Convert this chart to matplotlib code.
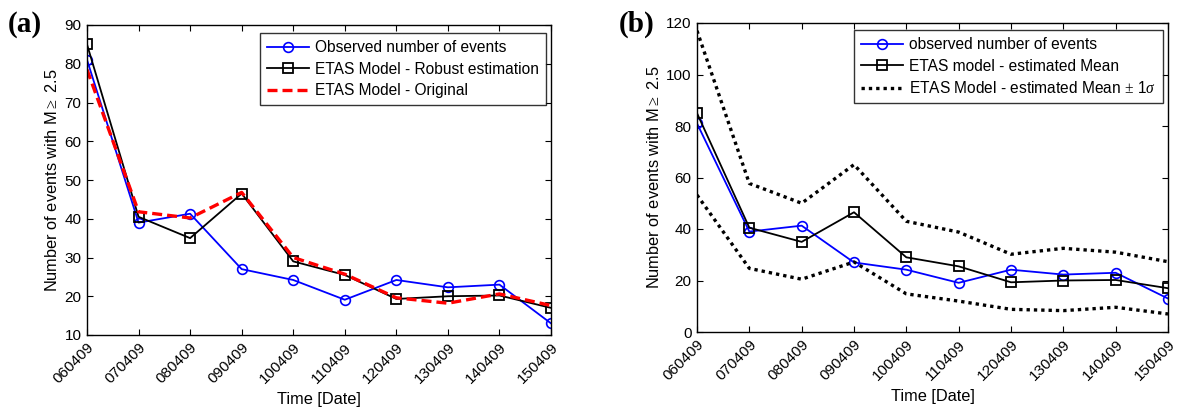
import matplotlib
matplotlib.use("Agg")
import matplotlib.pyplot as plt
import numpy as np

plt.rcParams['font.family'] = ['Liberation Sans', 'DejaVu Sans']
plt.rcParams['mathtext.fontset'] = 'custom'
plt.rcParams['mathtext.rm'] = 'Liberation Serif'
plt.rcParams['mathtext.it'] = 'Liberation Serif:italic'

dates = ["060409", "070409", "080409", "090409", "100409",
         "110409", "120409", "130409", "140409", "150409"]
observed = [81, 39, 41.3, 27, 24.2, 19.1, 24.2, 22.3, 23, 13]
robust = [85, 40.5, 35, 46.5, 29, 25.5, 19.3, 20, 20.2, 17]
original = [78.5, 41.8, 40.2, 46.8, 30, 25.7, 19.6, 18.2, 20.6, 17.6]
upper = [117, 57.7, 50, 65, 43, 38.8, 30.2, 32.5, 31, 27.3]
lower = [53.2, 24.7, 20.5, 27.2, 14.8, 12, 8.8, 8.3, 9.6, 7]

fig = plt.figure(figsize=(11.82, 4.12), dpi=100)
W, H = 1182, 412
axa = fig.add_axes([87 / W, 1 - 335 / H, (551 - 87) / W, (335 - 25) / H])
axb = fig.add_axes([697 / W, 1 - 332 / H, (1168 - 697) / W, (332 - 23) / H])

x = np.arange(len(dates))
TICK = 11
LAB = 11.8
LEG = 11.2

def style(ax):
    ax.set_xlim(0, len(dates) - 1)
    ax.set_xticks(x)
    ax.set_xticklabels(dates, rotation=45, ha='right', rotation_mode='anchor', fontsize=TICK)
    ax.tick_params(direction='in', top=True, right=True, length=4, labelsize=TICK, pad=4)
    for s in ax.spines.values():
        s.set_linewidth(1.0)
    ax.set_xlabel("Time [Date]", fontsize=LAB, labelpad=4)
    ax.set_ylabel(r"Number of events with M$\geq$ 2.5", fontsize=LAB, labelpad=3)

def legend(ax, anchor):
    leg = ax.legend(loc='upper right', bbox_to_anchor=anchor, fontsize=LEG, frameon=True,
                    fancybox=False, edgecolor='black', borderaxespad=0.0, handlelength=2.7,
                    handletextpad=0.35, labelspacing=0.42, borderpad=0.45)
    leg.get_frame().set_linewidth(1.0)

# Panel (a)
axa.plot(x, observed, color='#0000ff', marker='o', mfc='none', ms=7, mew=1.2, lw=1.3,
         label='Observed number of events')
axa.plot(x, robust, color='black', marker='s', mfc='none', ms=7, mew=1.3, lw=1.3,
         label='ETAS Model - Robust estimation')
axa.plot(x, original, color='red', ls='--', lw=2.4, dashes=(3, 1.5),
         label='ETAS Model - Original')
axa.set_ylim(10, 90)
axa.set_yticks(np.arange(10, 91, 10))
style(axa)
legend(axa, (0.989, 0.974))

# Panel (b)
axb.plot(x, observed, color='#0000ff', marker='o', mfc='none', ms=7, mew=1.2, lw=1.3,
         label='observed number of events')
axb.plot(x, robust, color='black', marker='s', mfc='none', ms=7, mew=1.3, lw=1.3,
         label='ETAS model - estimated Mean')
axb.plot(x, upper, color='black', ls=':', lw=2.4, dashes=(1, 1.2),
         label=r'ETAS Model - estimated Mean $\pm$ 1$\sigma$')
axb.plot(x, lower, color='black', ls=':', lw=2.4, dashes=(1, 1.2))
axb.set_ylim(0, 120)
axb.set_yticks(np.arange(0, 121, 20))
style(axb)
legend(axb, (0.989, 0.977))

fig.text(8 / W, 1 - 32 / H, "(a)", fontsize=21, fontweight='bold',
         family='Liberation Serif', va='baseline')
fig.text(619 / W, 1 - 32 / H, "(b)", fontsize=21, fontweight='bold',
         family='Liberation Serif', va='baseline')

fig.savefig("out.png", dpi=100)
